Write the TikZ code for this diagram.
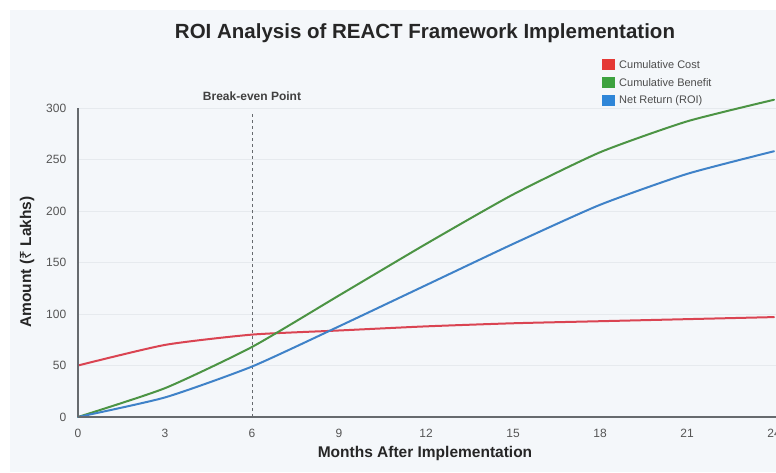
\documentclass[tikz,border=0pt]{standalone}
\usepackage{fontspec}
\setmainfont{Liberation Sans}
\newfontfamily\rupeefont{Noto Sans}
\definecolor{panelbg}{HTML}{F4F7FA}
\definecolor{gridc}{HTML}{E6EAEE}
\definecolor{axisc}{HTML}{666A6E}
\definecolor{tickc}{HTML}{555555}
\definecolor{costc}{HTML}{DA4452}
\definecolor{benefitc}{HTML}{4C9444}
\definecolor{roic}{HTML}{3F82C8}
\definecolor{costkey}{HTML}{E53935}
\definecolor{benefitkey}{HTML}{3DA23F}
\definecolor{roikey}{HTML}{2F86D8}
\tikzset{
  ticklabel/.style={font=\fontsize{12}{13}\selectfont, text=tickc, inner sep=0pt},
  axistitle/.style={font=\bfseries\fontsize{15.5}{17}\selectfont, text=black!85, inner sep=0pt},
  series/.style={line width=2pt, line join=round, line cap=round},
  keybox/.style={minimum width=13pt, minimum height=11pt, inner sep=0pt},
  keytext/.style={font=\fontsize{11}{12}\selectfont, text=black!70, anchor=west, inner sep=0pt},
}
\begin{document}
\begin{tikzpicture}[x=1pt,y=1pt]
\useasboundingbox (0,0) rectangle (776,472);
\fill[white] (0,0) rectangle (776,472);
\fill[panelbg] (10,0) rectangle (776,462);

% title
\node[font=\bfseries\fontsize{20.5}{24}\selectfont, text=black!85] (title) at (425,439)
  {ROI Analysis of REACT Framework Implementation};

% plot area: month m -> 78+29m, amount v -> 55+1.03v
\begin{scope}[shift={(78,55)}, x=29pt, y=1.03pt]
  % horizontal grid
  \foreach \v in {50,100,...,300}
    \draw[gridc, line width=0.6pt] (0,\v) -- (24.1,\v);
  % y tick labels
  \foreach \v in {0,50,...,300}
    \node[ticklabel, anchor=east] (yt\v) at (-0.4,\v) {\v};
  % x tick labels
  \foreach \m in {0,3,...,24}
    \node[ticklabel] (xt\m) at (\m,-15.5) {\m};

  % break-even marker
  \coordinate (beTop) at (6,297);
  \coordinate (beBot) at (6,0);
  \draw[axisc, line width=0.9pt, dash pattern=on 3pt off 3pt] (beBot) -- (beTop);
  \node[font=\bfseries\fontsize{12}{13}\selectfont, text=black!75] (belabel) at (6,311) {Break-even Point};

  % data series
  \draw[series, costc] plot[smooth, tension=0.35] coordinates
    {(0,50) (3,70) (6,80) (9,84) (12,88) (15,91) (18,93) (21,95) (24,97)};
  \draw[series, benefitc] plot[smooth, tension=0.35] coordinates
    {(0,0) (3,28) (6,68) (9,118) (12,168) (15,216) (18,257) (21,287) (24,308)};
  \draw[series, roic] plot[smooth, tension=0.35] coordinates
    {(0,0) (3,19) (6,49) (9,88) (12,128) (15,168) (18,206) (21,236) (24,258)};

  % axes
  \coordinate (origin) at (0,0);
  \coordinate (yEnd) at (0,300);
  \coordinate (xEnd) at (24.2,0);
  \draw[axisc, line width=2pt] (origin) -- (xEnd);
  \draw[axisc, line width=1.6pt] (origin) -- (yEnd);
\end{scope}

% axis titles
\node[axistitle] (xtitle) at (425,19) {Months After Implementation};
\node[axistitle, rotate=90] (ytitle) at (27,210) {Amount ({\rupeefont ₹} Lakhs)};

% legend
\node[keybox, fill=costkey] (k1) at (608,407) {};
\node[keytext] (t1) at (619,407) {Cumulative Cost};
\node[keybox, fill=benefitkey] (k2) at (608,389) {};
\node[keytext] (t2) at (619,389) {Cumulative Benefit};
\node[keybox, fill=roikey] (k3) at (608,371) {};
\node[keytext] (t3) at (619,371) {Net Return (ROI)};
\end{tikzpicture}
\end{document}
